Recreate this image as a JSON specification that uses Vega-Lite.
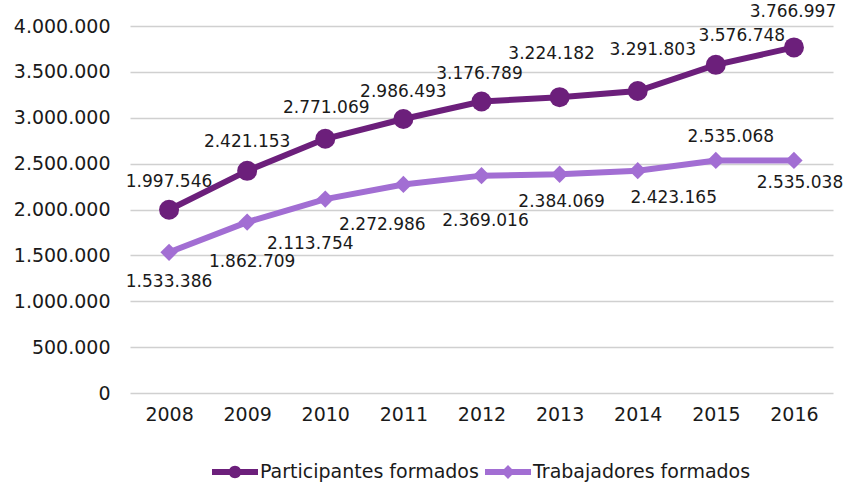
{
  "$schema": "https://vega.github.io/schema/vega-lite/v6.json",
  "width": 703,
  "height": 367,
  "autosize": {"type": "none"},
  "padding": {"left": 130, "top": 26, "right": 23, "bottom": 92},
  "background": "white",
  "config": {
    "locale": {"number": {"decimal": ",", "thousands": ".", "grouping": [3], "currency": ["", " €"]}},
    "view": {"stroke": null},
    "font": "DejaVu Sans",
    "axis": {"labelFont": "DejaVu Sans", "labelColor": "#1a1a1a", "labelFontSize": 19, "ticks": false, "domain": false, "title": null},
    "legend": {"layout": {"bottom": {"anchor": "middle"}}}
  },
  "data": {"values": [
    {"year": "2008", "series": "Participantes formados", "value": 1997546},
    {"year": "2009", "series": "Participantes formados", "value": 2421153},
    {"year": "2010", "series": "Participantes formados", "value": 2771069},
    {"year": "2011", "series": "Participantes formados", "value": 2986493},
    {"year": "2012", "series": "Participantes formados", "value": 3176789},
    {"year": "2013", "series": "Participantes formados", "value": 3224182},
    {"year": "2014", "series": "Participantes formados", "value": 3291803},
    {"year": "2015", "series": "Participantes formados", "value": 3576748},
    {"year": "2016", "series": "Participantes formados", "value": 3766997},
    {"year": "2008", "series": "Trabajadores formados", "value": 1533386},
    {"year": "2009", "series": "Trabajadores formados", "value": 1862709},
    {"year": "2010", "series": "Trabajadores formados", "value": 2113754},
    {"year": "2011", "series": "Trabajadores formados", "value": 2272986},
    {"year": "2012", "series": "Trabajadores formados", "value": 2369016},
    {"year": "2013", "series": "Trabajadores formados", "value": 2384069},
    {"year": "2014", "series": "Trabajadores formados", "value": 2423165},
    {"year": "2015", "series": "Trabajadores formados", "value": 2535068},
    {"year": "2016", "series": "Trabajadores formados", "value": 2535038}
  ]},
  "encoding": {
    "x": {"field": "year", "type": "ordinal", "scale": {"type": "point", "padding": 0.5},
      "axis": {"labelAngle": 0, "labelPadding": 12, "grid": false}},
    "y": {"field": "value", "type": "quantitative",
      "scale": {"domain": [0, 4000000], "nice": false},
      "axis": {"values": [0, 500000, 1000000, 1500000, 2000000, 2500000, 3000000, 3500000, 4000000], "format": ",d", "labelPadding": 20, "grid": true, "gridColor": "#d0d0d0", "gridWidth": 1.3}}
  },
  "layer": [
    {
      "mark": {"type": "line", "strokeWidth": 6},
      "encoding": {
        "color": {"field": "series", "type": "nominal",
          "scale": {"domain": ["Participantes formados", "Trabajadores formados"], "range": ["#6c1f7b", "#a26ed3"]},
          "legend": {
            "orient": "bottom", "direction": "horizontal", "title": null,
            "labelFont": "DejaVu Sans", "labelFontSize": 19, "labelColor": "#1a1a1a", "labelLimit": 400,
            "symbolSize": 2116, "labelOffset": 2, "columnPadding": 6, "offset": 25,
            "encode": {"symbols": {"update": {
              "shape": {"signal": "datum.value === 'Participantes formados' ? 'M-1,-0.13H1V0.13H-1Z M0.27,0A0.27,0.27,0,1,1,-0.27,0A0.27,0.27,0,1,1,0.27,0Z' : 'M-1,-0.13H1V0.13H-1Z M0,-0.3L0.3,0L0,0.3L-0.3,0Z'"},
              "fill": {"signal": "datum.value === 'Participantes formados' ? '#6c1f7b' : '#a26ed3'"},
              "stroke": {"value": "transparent"},
              "strokeWidth": {"value": 0},
              "size": {"value": 2116},
              "opacity": {"value": 1}
            }}}
          }}
      }
    },
    {
      "transform": [{"filter": "datum.series === 'Participantes formados'"}],
      "mark": {"type": "point", "filled": true, "opacity": 1, "shape": "circle", "size": 400},
      "encoding": {"color": {"field": "series", "type": "nominal", "legend": null}}
    },
    {
      "transform": [{"filter": "datum.series === 'Trabajadores formados'"}],
      "mark": {"type": "point", "filled": true, "opacity": 1, "shape": "diamond", "size": 300},
      "encoding": {"color": {"field": "series", "type": "nominal", "legend": null}}
    },
    {
      "transform": [{"filter": "datum.series === 'Participantes formados'"}],
      "mark": {"type": "text", "fontSize": 17, "font": "DejaVu Sans", "color": "#1a1a1a", "baseline": "middle", "align": "center",
        "dy": {"expr": "[-28,-29,-31,-27,-28,-43,-41,-29,-35][toNumber(datum.year) - 2008]"},
        "dx": {"expr": "[0,0,1,0,-2,-8,15,26,-1][toNumber(datum.year) - 2008]"}},
      "encoding": {"text": {"field": "value", "type": "quantitative", "format": ",d"}}
    },
    {
      "transform": [{"filter": "datum.series === 'Trabajadores formados'"}],
      "mark": {"type": "text", "fontSize": 17, "font": "DejaVu Sans", "color": "#1a1a1a", "baseline": "middle", "align": "center",
        "dy": {"expr": "[30,40,45,41,45,28,27,-23,23][toNumber(datum.year) - 2008]"},
        "dx": {"expr": "[0,5,-15,-21,4,2,36,15,6][toNumber(datum.year) - 2008]"}},
      "encoding": {"text": {"field": "value", "type": "quantitative", "format": ",d"}}
    }
  ]
}
